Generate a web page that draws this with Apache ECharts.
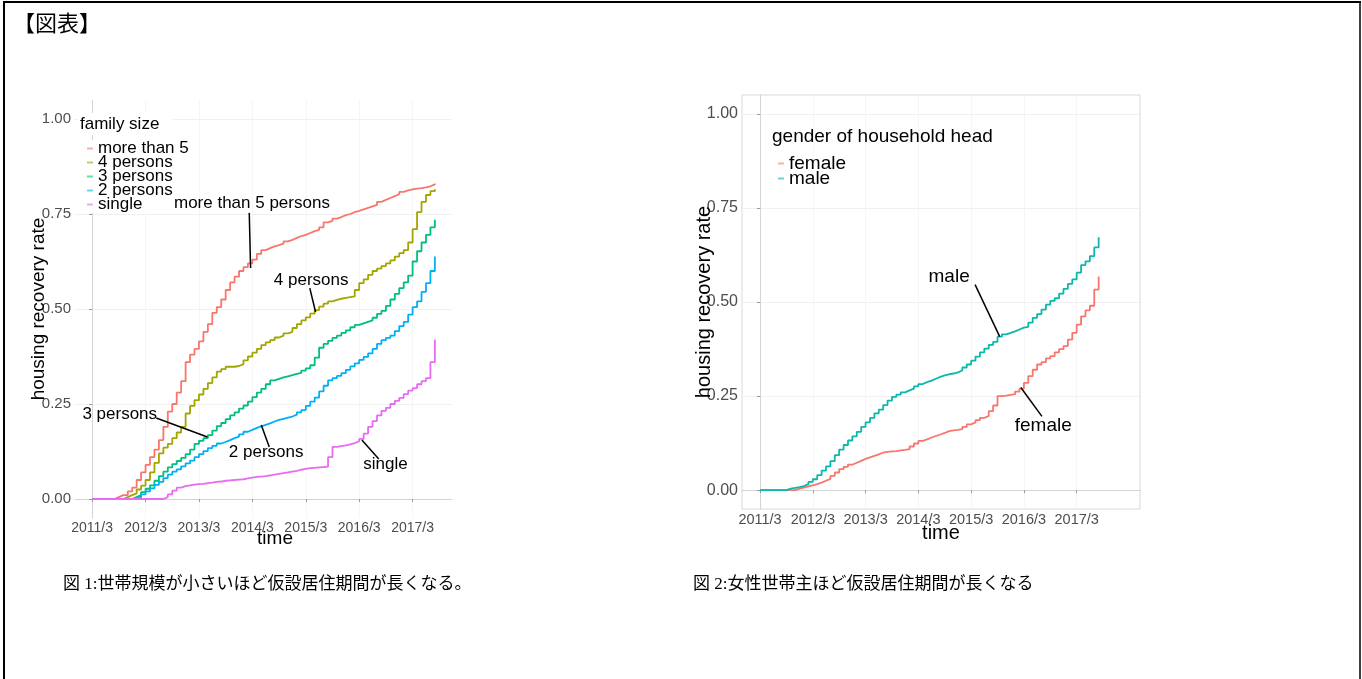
<!DOCTYPE html>
<html>
<head>
<meta charset="utf-8">
<script src="https://cdn.jsdelivr.net/npm/echarts@6/dist/echarts.min.js"></script>
<style>
  html, body { margin: 0; padding: 0; background: #fff; }
  #main { width: 1362px; height: 679px; }
</style>
</head>
<body>
<div id="main"></div>
<script>
// monthly readings, index 0 = 2011/3
const moreThan5 = [0,0,0,0,0,0.005,0.01,0.01,0.02,0.03,
  0.05,0.07,0.09,0.11,0.13,0.155,0.19,0.23,0.25,0.28,
  0.31,0.36,0.38,0.395,0.415,0.44,0.46,0.49,0.505,0.525,
  0.55,0.57,0.585,0.6,0.61,0.62,0.63,0.645,0.655,0.66,
  0.665,0.668,0.672,0.678,0.682,0.687,0.692,0.695,0.7,0.705,
  0.708,0.715,0.728,0.732,0.738,0.742,0.747,0.75,0.755,0.758,
  0.762,0.766,0.77,0.774,0.782,0.787,0.792,0.797,0.802,0.808,
  0.812,0.815,0.817,0.818,0.82,0.823,0.828,0.83]
const persons4 = [0,0,0,0,0,0,0,0.005,0.01,0.015,
  0.025,0.035,0.05,0.07,0.095,0.12,0.135,0.145,0.16,0.175,
  0.19,0.225,0.245,0.26,0.275,0.29,0.305,0.32,0.335,0.342,
  0.348,0.348,0.35,0.355,0.365,0.375,0.385,0.395,0.405,0.412,
  0.418,0.425,0.43,0.436,0.44,0.45,0.46,0.47,0.478,0.488,
  0.497,0.506,0.514,0.52,0.524,0.527,0.529,0.531,0.533,0.55,
  0.568,0.578,0.59,0.6,0.606,0.613,0.62,0.628,0.638,0.647,
  0.655,0.675,0.71,0.755,0.782,0.8,0.81,0.815]
const persons3 = [0,0,0,0,0,0,0,0,0,0.005,
  0.01,0.018,0.027,0.036,0.048,0.06,0.072,0.083,0.092,0.1,
  0.108,0.118,0.13,0.145,0.153,0.16,0.168,0.18,0.192,0.2,
  0.21,0.22,0.228,0.238,0.246,0.256,0.268,0.28,0.29,0.302,
  0.312,0.316,0.32,0.323,0.326,0.329,0.332,0.338,0.344,0.352,
  0.372,0.398,0.408,0.416,0.424,0.43,0.437,0.444,0.452,0.458,
  0.462,0.466,0.47,0.477,0.487,0.495,0.508,0.525,0.54,0.555,
  0.57,0.588,0.625,0.652,0.675,0.695,0.715,0.735]
const persons2 = [0,0,0,0,0,0,0,0,0,0,
  0.005,0.012,0.02,0.028,0.037,0.045,0.055,0.064,0.072,0.078,
  0.086,0.094,0.101,0.11,0.118,0.126,0.134,0.14,0.146,0.15,
  0.155,0.16,0.164,0.17,0.177,0.182,0.187,0.191,0.195,0.199,
  0.204,0.208,0.211,0.214,0.217,0.222,0.228,0.234,0.245,0.256,
  0.267,0.283,0.298,0.312,0.318,0.324,0.331,0.34,0.349,0.357,
  0.366,0.374,0.383,0.395,0.408,0.418,0.424,0.43,0.442,0.455,
  0.466,0.485,0.505,0.52,0.545,0.568,0.6,0.638]
const single = [0,0,0,0,0,0,0,0,0,0,
  0,0,0,0,0,0,0.005,0.012,0.022,0.03,
  0.034,0.036,0.038,0.039,0.04,0.042,0.043,0.045,0.046,0.048,
  0.049,0.05,0.051,0.052,0.054,0.056,0.058,0.059,0.06,0.062,
  0.064,0.066,0.068,0.07,0.072,0.074,0.077,0.079,0.081,0.082,
  0.083,0.084,0.085,0.11,0.137,0.139,0.141,0.144,0.147,0.152,
  0.158,0.172,0.19,0.205,0.22,0.232,0.24,0.25,0.258,0.266,
  0.276,0.285,0.292,0.302,0.31,0.318,0.36,0.42]

const male = [0,0,0,0,0,0,0.004,0.006,0.008,0.011,
  0.016,0.022,0.029,0.04,0.052,0.063,0.077,0.093,0.108,0.12,
  0.132,0.143,0.155,0.168,0.18,0.192,0.204,0.214,0.226,0.238,
  0.248,0.254,0.26,0.265,0.27,0.276,0.282,0.287,0.291,0.296,
  0.301,0.305,0.308,0.31,0.313,0.318,0.326,0.334,0.344,0.355,
  0.366,0.376,0.386,0.394,0.408,0.414,0.418,0.422,0.427,0.432,
  0.434,0.445,0.458,0.468,0.48,0.493,0.503,0.51,0.522,0.535,
  0.548,0.56,0.578,0.598,0.608,0.622,0.645,0.672]
const female = [0,0,0,0,0,0,0,0,0.004,0.007,
  0.01,0.013,0.016,0.02,0.025,0.03,0.038,0.047,0.056,0.062,
  0.068,0.073,0.078,0.083,0.087,0.091,0.095,0.1,0.102,0.103,
  0.104,0.106,0.107,0.109,0.116,0.124,0.131,0.135,0.14,0.144,
  0.148,0.152,0.157,0.159,0.16,0.162,0.168,0.175,0.18,0.186,
  0.192,0.197,0.21,0.225,0.25,0.251,0.253,0.255,0.262,0.27,
  0.285,0.303,0.32,0.334,0.34,0.35,0.356,0.366,0.375,0.383,
  0.4,0.418,0.44,0.462,0.478,0.49,0.533,0.568]

const xTicks = [0, 12, 24, 36, 48, 60, 72]   // months since 2011/3
const yTicks = [0, 0.25, 0.5, 0.75, 1]

const famNames = ['more than 5', '4 persons', '3 persons', '2 persons', 'single']
const famValues = [moreThan5, persons4, persons3, persons2, single]
const famColors = ['#F8766D', '#A3A500', '#00BF7D', '#00B0F6', '#E76BF3']
const genNames = ['female', 'male']
const genValues = [female, male]
const genColors = ['#F8766D', '#0bb8aa']

// label text, anchor of text, and pointer segment, all in data units
const famNotes = [
  { text: 'more than 5 persons', at: [35.9, 0.779], from: [35.3, 0.753], to: [35.6, 0.608] },
  { text: '4 persons', at: [49.2, 0.576], from: [48.9, 0.555], to: [50.2, 0.492] },
  { text: '3 persons', at: [6.2, 0.224], from: [14.4, 0.213], to: [25.9, 0.163] },
  { text: '2 persons', at: [39.1, 0.124], from: [38.0, 0.195], to: [39.8, 0.137] },
  { text: 'single', at: [65.9, 0.092], from: [60.6, 0.155], to: [64.4, 0.105] }
]
const genNotes = [
  { text: 'male', at: [43.0, 0.568], from: [48.9, 0.546], to: [54.5, 0.408] },
  { text: 'female', at: [64.4, 0.172], from: [59.3, 0.273], to: [64.1, 0.196] }
]

const SANS = "'Liberation Sans', Arial, sans-serif"
const CJK = "'Liberation Serif', 'Noto Sans CJK JP', serif"

function xAxisFor (idx, min, max, fontSize) {
  return {
    type: 'value', gridIndex: idx, min: min, max: max,
    axisLine: { show: true, lineStyle: { color: '#d4d4d4' } },
    axisTick: { show: true, length: 3, customValues: xTicks, lineStyle: { color: '#999' } },
    axisLabel: {
      customValues: xTicks, margin: 3, color: '#4d4d4d', fontSize: fontSize, fontFamily: SANS,
      formatter: v => (2011 + v / 12) + '/3'
    },
    splitLine: { show: true, lineStyle: { color: '#f6f6f6' } }
  }
}
function yAxisFor (idx, fontSize) {
  return {
    type: 'value', gridIndex: idx, min: -0.05, max: 1.05,
    axisLine: { show: true, lineStyle: { color: '#d4d4d4' } },
    axisTick: { show: true, length: 3, customValues: yTicks, lineStyle: { color: '#999' } },
    axisLabel: {
      customValues: yTicks, margin: 4, color: '#4d4d4d', fontSize: fontSize, fontFamily: SANS,
      formatter: v => v.toFixed(2)
    },
    splitLine: { show: true, lineStyle: { color: '#f0f0f0' } }
  }
}

function notesMarkers (notes, fontSize) {
  return {
    markLine: {
      silent: true, symbol: 'none',
      lineStyle: { color: '#000', width: 1.5, type: 'solid' },
      label: { show: false },
      data: notes.map(n => [{ coord: n.from }, { coord: n.to }])
    },
    markPoint: {
      silent: true, symbol: 'rect', symbolSize: 1,
      itemStyle: { color: 'rgba(0,0,0,0)' },
      label: { show: true, position: 'inside', color: '#000', fontSize: fontSize, fontFamily: SANS,
        formatter: p => p.name },
      data: notes.map(n => ({ name: n.text, coord: n.at }))
    }
  }
}

const series = []
famNames.forEach((name, i) => {
  const s = {
    name: name, type: 'line', step: 'end', xAxisIndex: 0, yAxisIndex: 0,
    showSymbol: false, animation: false,
    lineStyle: { width: 1.8, color: famColors[i] }, itemStyle: { color: famColors[i] },
    data: famValues[i].map((v, m) => [m, v])
  }
  if (i === 0) Object.assign(s, notesMarkers(famNotes, 17))
  series.push(s)
})
genNames.forEach((name, i) => {
  const s = {
    name: name, type: 'line', step: 'end', xAxisIndex: 1, yAxisIndex: 1,
    showSymbol: false, animation: false,
    lineStyle: { width: 1.8, color: genColors[i] }, itemStyle: { color: genColors[i] },
    data: genValues[i].map((v, m) => [m, v])
  }
  if (i === 0) Object.assign(s, notesMarkers(genNotes, 19))
  series.push(s)
})

const chart = echarts.init(document.getElementById('main'), null, { renderer: 'canvas' })
chart.setOption({
  animation: false,
  backgroundColor: '#fff',
  grid: [
    { left: 75, top: 100, width: 377, height: 418, show: false },
    { left: 742, top: 95, width: 398, height: 414, show: true, borderColor: '#d9d9d9', borderWidth: 1 }
  ],
  xAxis: [xAxisFor(0, -3.85, 80.85, 14), xAxisFor(1, -4.1, 86.4, 14.5)],
  yAxis: [yAxisFor(0, 15), yAxisFor(1, 16)],
  legend: [
    {
      data: famNames, orient: 'vertical', left: 87, top: 140, selectedMode: false,
      icon: 'rect', itemWidth: 6, itemHeight: 2, itemGap: -3, padding: 0,
      backgroundColor: '#fff',
      itemStyle: { opacity: 0.6 },
      textStyle: { fontSize: 17, color: '#000', fontFamily: SANS }
    },
    {
      data: genNames, orient: 'vertical', left: 778, top: 154, selectedMode: false,
      icon: 'rect', itemWidth: 6, itemHeight: 2, itemGap: -4, padding: 0,
      itemStyle: { opacity: 0.6 },
      textStyle: { fontSize: 19, color: '#000', fontFamily: SANS }
    }
  ],
  graphic: [
    // page frame
    { type: 'line', z: 20, shape: { x1: 3, y1: 2, x2: 1361, y2: 2 }, style: { stroke: '#000', lineWidth: 2 } },
    { type: 'line', z: 20, shape: { x1: 4, y1: 1, x2: 4, y2: 679 }, style: { stroke: '#000', lineWidth: 2 } },
    { type: 'line', z: 20, shape: { x1: 1360, y1: 1, x2: 1360, y2: 679 }, style: { stroke: '#000', lineWidth: 1.5 } },
    { type: 'text', z: 20, left: 13, top: 12, style: { text: '【図表】', font: "22px 'Noto Sans CJK JP'", fill: '#000' } },
    // legend titles, on a white patch like the legend box
    { type: 'rect', z: 20, shape: { x: 78, y: 113, width: 95, height: 22 }, style: { fill: '#fff' } },
    { type: 'text', z: 21, x: 80, y: 124, style: { text: 'family size', font: '17px ' + SANS, fill: '#000', verticalAlign: 'middle' } },
    { type: 'text', z: 21, x: 772, y: 137, style: { text: 'gender of household head', font: '19px ' + SANS, fill: '#000', verticalAlign: 'middle' } },
    // axis titles
    { type: 'text', z: 20, x: 275, y: 539, style: { text: 'time', font: '19px ' + SANS, fill: '#000', align: 'center', verticalAlign: 'middle' } },
    { type: 'text', z: 20, x: 941, y: 533, style: { text: 'time', font: '20px ' + SANS, fill: '#000', align: 'center', verticalAlign: 'middle' } },
    { type: 'text', z: 20, x: 39, y: 309, rotation: Math.PI / 2, style: { text: 'housing recovery rate', font: '19px ' + SANS, fill: '#000', align: 'center', verticalAlign: 'middle' } },
    { type: 'text', z: 20, x: 704, y: 302, rotation: Math.PI / 2, style: { text: 'housing recovery rate', font: '20px ' + SANS, fill: '#000', align: 'center', verticalAlign: 'middle' } },
    // captions
    { type: 'text', z: 20, x: 63, y: 585, style: { text: '図 1:世帯規模が小さいほど仮設居住期間が長くなる。', font: '17px ' + CJK, fill: '#000', verticalAlign: 'middle' } },
    { type: 'text', z: 20, x: 693, y: 585, style: { text: '図 2:女性世帯主ほど仮設居住期間が長くなる', font: '17px ' + CJK, fill: '#000', verticalAlign: 'middle' } }
  ],
  series: series
})
</script>
</body>
</html>
